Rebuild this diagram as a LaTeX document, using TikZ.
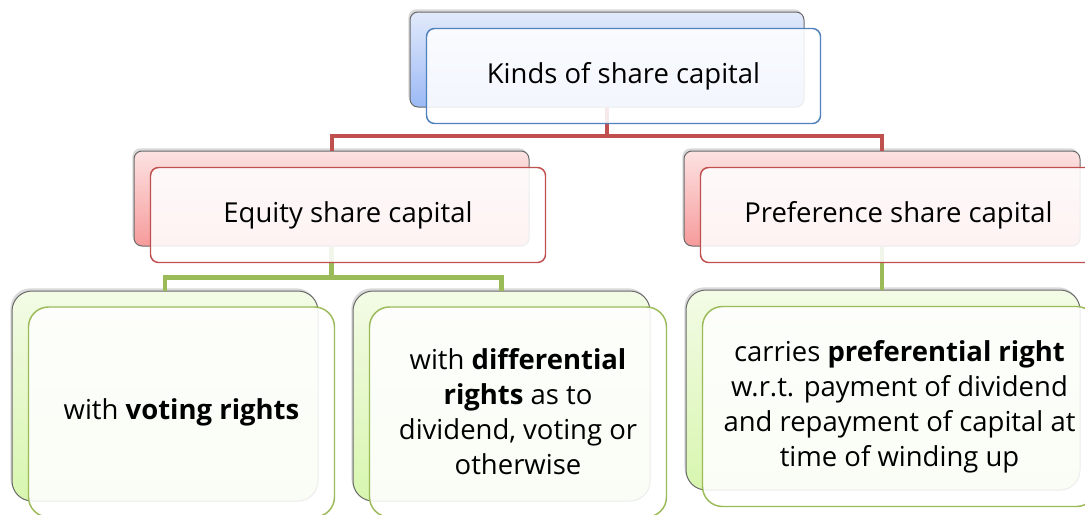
\documentclass[tikz,border=0pt]{standalone}
\usepackage{fontspec}
\setmainfont{Open Sans}
\usetikzlibrary{shadows}

\definecolor{kindblue}{RGB}{79,129,189}
\definecolor{kindred}{RGB}{192,80,77}
\definecolor{kindgreen}{RGB}{155,187,89}
\definecolor{edgegray}{RGB}{105,105,105}

\tikzset{every picture/.style={line width=0.75pt}}
\tikzset{
	backbox/.style={draw=edgegray, line width=0.75pt, rounded corners=6pt,
		drop shadow={shadow xshift=-1.2pt, shadow yshift=2pt, opacity=0.3}},
	frontbox/.style={draw, line width=1.1pt, rounded corners=6pt, fill=white, fill opacity=0.88,
		text opacity=1, align=center, inner sep=0pt, font=\fontsize{20.6}{26.25}\selectfont,
		execute at begin node={\vspace*{4.5pt}}},
	bluebox/.style={backbox, top color={rgb,255:red,226;green,234;blue,251}, bottom color={rgb,255:red,155;green,185;blue,245}},
	redbox/.style={backbox, top color={rgb,255:red,253;green,226;blue,226}, bottom color={rgb,255:red,246;green,155;blue,155}},
	greenbox/.style={backbox, rounded corners=15pt, top color={rgb,255:red,243;green,251;blue,230}, bottom color={rgb,255:red,216;green,246;blue,175}},
	redlink/.style={draw=kindred, line width=3pt},
	greenlink/.style={draw=kindgreen, line width=3.5pt},
}

\begin{document}
\begin{tikzpicture}[x=0.75pt,y=0.75pt,yscale=-1,xscale=1]
	\useasboundingbox (0,0) rectangle (1085,514);
	\clip (0,0) rectangle (1085,514);

	% Back boxes
	\node [bluebox, minimum width=295.5pt, minimum height=71.25pt] (kindsb) at (607,59.5) {};
	\node [redbox, minimum width=296.25pt, minimum height=71.25pt] (equityb) at (331.5,198.5) {};
	\node [redbox, minimum width=297pt, minimum height=71.25pt] (prefb) at (882,198.5) {};
	\node [greenbox, minimum width=229.5pt, minimum height=157.5pt] (votingb) at (165,396) {};
	\node [greenbox, minimum width=222.75pt, minimum height=157.5pt] (diffb) at (501.5,396) {};
	\node [greenbox, minimum width=295.5pt, minimum height=150pt] (prefrightb) at (883,390) {};

	% Connection
	\draw [redlink] (kindsb.south) -- ++(0,28) -| (equityb.north);
	\draw [redlink] (kindsb.south) -- ++(0,28) -| (prefb.north);
	% Connection
	\draw [greenlink] (equityb.south) -- ++(0,31) -| (votingb.north);
	\draw [greenlink] (equityb.south) -- ++(0,31) -| (diffb.north);
	\draw [greenlink] (prefb.south) -- (prefb.south |- prefrightb.north);

	% Text Node
	\node [frontbox, draw=kindblue, minimum width=295.5pt, minimum height=71.25pt] (kinds) at (623.5,76) {Kinds of share capital};
	% Text Node
	\node [frontbox, draw=kindred, minimum width=296.25pt, minimum height=71.25pt] (equity) at (348,215) {Equity share capital};
	% Text Node
	\node [frontbox, draw=kindred, minimum width=297pt, minimum height=71.25pt] (pref) at (898.5,215) {Preference share capital};
	% Text Node
	\node [frontbox, draw=kindgreen, rounded corners=15pt, minimum width=229.5pt, minimum height=157.5pt] (voting) at (181.5,412) {with \textbf{voting rights}};
	% Text Node
	\node [frontbox, draw=kindgreen, rounded corners=15pt, minimum width=222.75pt, minimum height=157.5pt] (diff) at (518,412) {with \textbf{differential}\\\textbf{rights} as to\\dividend, voting or\\otherwise};
	% Text Node
	\node [frontbox, draw=kindgreen, rounded corners=15pt, minimum width=295.5pt, minimum height=150pt] (prefright) at (899.5,406.5) {carries \textbf{preferential right}\\w.r.t. payment of dividend\\and repayment of capital at\\time of winding up};

\end{tikzpicture}
\end{document}
